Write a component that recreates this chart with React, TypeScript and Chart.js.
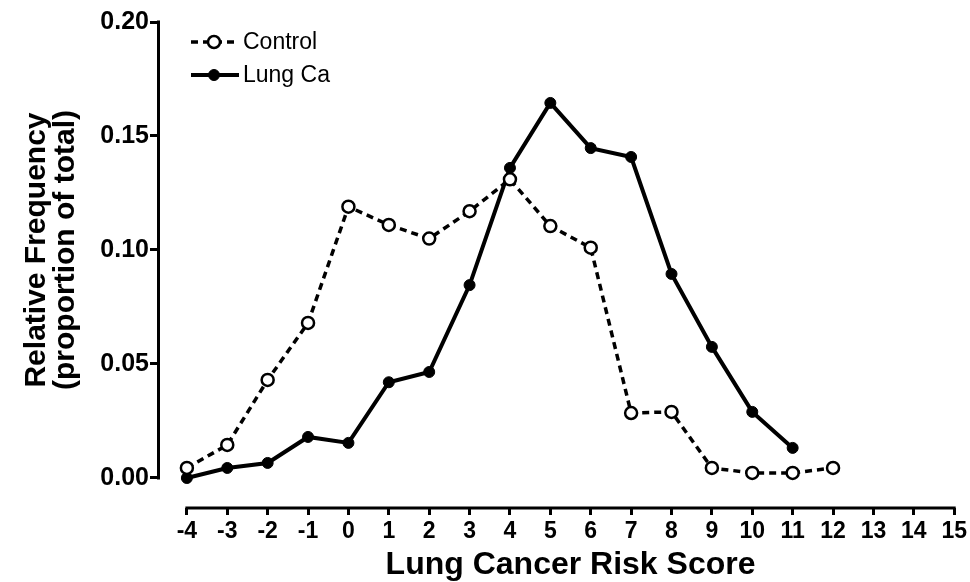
import React, { useEffect, useRef } from "react";
import { Chart, registerables } from "chart.js";

Chart.register(...registerables);

const controlScores = [-4, -3, -2, -1, 0, 1, 2, 3, 4, 5, 6, 7, 8, 9, 10, 11, 12];
const controlValues = [0.0044, 0.0145, 0.043, 0.068, 0.119, 0.111, 0.105, 0.117, 0.131, 0.1105, 0.101, 0.0285, 0.029, 0.0044, 0.0022, 0.0022, 0.0044];
const lungScores = [-4, -3, -2, -1, 0, 1, 2, 3, 4, 5, 6, 7, 8, 9, 10, 11];
const lungValues = [0.0, 0.0044, 0.0066, 0.018, 0.0154, 0.042, 0.0465, 0.0846, 0.136, 0.1645, 0.1447, 0.1408, 0.0895, 0.0575, 0.029, 0.0132];
const xTickValues = [-4, -3, -2, -1, 0, 1, 2, 3, 4, 5, 6, 7, 8, 9, 10, 11, 12, 13, 14, 15];
const yTickValues = [0.0, 0.05, 0.1, 0.15, 0.2];
const seriesNames = ["Control", "Lung Ca"];
const xTitle = "Lung Cancer Risk Score";
const yTitleLines = ["Relative Frequency", "(proportion of total)"];

const FONT = '"Liberation Sans", Arial, sans-serif';

const detachedAxes = {
  id: "detachedAxes",
  beforeDatasetsDraw(chart: any) {
    const { ctx, chartArea } = chart;
    const x = chart.scales.x;
    const y = chart.scales.y;
    ctx.save();
    ctx.strokeStyle = "#000";
    ctx.lineWidth = 3;
    ctx.lineCap = "butt";
    const yTop = y.getPixelForValue(yTickValues[yTickValues.length - 1]);
    const yBot = y.getPixelForValue(yTickValues[0]);
    ctx.beginPath();
    ctx.moveTo(chartArea.left + 1.5, yTop - 1.5);
    ctx.lineTo(chartArea.left + 1.5, yBot + 1.5);
    ctx.stroke();
    const xL = x.getPixelForValue(xTickValues[0]);
    const xR = x.getPixelForValue(xTickValues[xTickValues.length - 1]);
    ctx.beginPath();
    ctx.moveTo(xL - 1.5, chartArea.bottom);
    ctx.lineTo(xR + 1.5, chartArea.bottom);
    ctx.stroke();

    ctx.fillStyle = "#000";
    // x title, centred on the x axis line
    ctx.font = `bold 32px ${FONT}`;
    ctx.textAlign = "center";
    ctx.textBaseline = "alphabetic";
    ctx.fillText(xTitle, (xL + xR) / 2, 574);
    // y title, centred on the y axis line
    ctx.translate(0, (yTop + yBot) / 2);
    ctx.rotate(-Math.PI / 2);
    ctx.font = `bold 30px ${FONT}`;
    ctx.fillText(yTitleLines[0], 0, 45);
    ctx.fillText(yTitleLines[1], 0, 74);
    ctx.restore();
  },
};

const lineLegend = {
  id: "lineLegend",
  afterDraw(chart: any) {
    const { ctx } = chart;
    const rows = [42, 75];
    ctx.save();
    chart.data.datasets.forEach((ds: any, i: number) => {
      const yy = rows[i];
      ctx.strokeStyle = ds.borderColor;
      ctx.lineWidth = ds.borderWidth;
      ctx.setLineDash(ds.borderDash || []);
      ctx.beginPath();
      ctx.moveTo(191, yy);
      ctx.lineTo(239, yy);
      ctx.stroke();
      ctx.setLineDash([]);
      ctx.beginPath();
      ctx.arc(214, yy, ds.pointRadius, 0, Math.PI * 2);
      ctx.fillStyle = ds.pointBackgroundColor;
      ctx.fill();
      ctx.lineWidth = ds.pointBorderWidth;
      ctx.strokeStyle = ds.pointBorderColor;
      ctx.stroke();
      ctx.fillStyle = "#000";
      ctx.font = `23px ${FONT}`;
      ctx.textAlign = "left";
      ctx.textBaseline = "middle";
      ctx.fillText(ds.label, 243, yy + 1);
    });
    ctx.restore();
  },
};

export default function App() {
  const ref = useRef<HTMLCanvasElement | null>(null);
  useEffect(() => {
    if (!ref.current) return;
    const chart = new Chart(ref.current, {
      type: "line",
      data: {
        datasets: [
          {
            label: seriesNames[0],
            data: controlScores.map((s, i) => ({ x: s, y: controlValues[i] })),
            borderColor: "#000",
            borderWidth: 3.5,
            borderDash: [7, 5],
            pointRadius: 6,
            pointBorderWidth: 2.5,
            pointBackgroundColor: "#fff",
            pointBorderColor: "#000",
            tension: 0,
          },
          {
            label: seriesNames[1],
            data: lungScores.map((s, i) => ({ x: s, y: lungValues[i] })),
            borderColor: "#000",
            borderWidth: 4,
            pointRadius: 5.5,
            pointBorderWidth: 1,
            pointBackgroundColor: "#000",
            pointBorderColor: "#000",
            tension: 0,
          },
        ],
      },
      options: {
        animation: false,
        responsive: false,
        layout: { padding: { top: 22, right: 14, left: 0, bottom: 0 } },
        plugins: { legend: { display: false }, tooltip: { enabled: false } },
        scales: {
          x: {
            type: "linear",
            min: -4.74,
            max: 15.02,
            afterBuildTicks: (s: any) => {
              s.ticks = xTickValues.map((v) => ({ value: v }));
            },
            afterFit: (s: any) => {
              s.height = 74;
            },
            border: { display: false },
            grid: {
              drawOnChartArea: false,
              drawTicks: true,
              tickLength: 7,
              tickWidth: 3,
              tickColor: "#000",
            },
            ticks: {
              color: "#000",
              font: { family: FONT, size: 23, weight: "bold" },
              padding: 3,
              maxRotation: 0,
              autoSkip: false,
              callback: (v: any) => String(v),
            },
          },
          y: {
            type: "linear",
            min: -0.01316,
            max: 0.2,
            afterBuildTicks: (s: any) => {
              s.ticks = yTickValues.map((v) => ({ value: v }));
            },
            afterFit: (s: any) => {
              s.width = 157;
            },
            border: { display: false },
            grid: {
              drawOnChartArea: false,
              drawTicks: true,
              tickLength: 7,
              tickWidth: 3,
              tickColor: "#000",
            },
            ticks: {
              color: "#000",
              font: { family: FONT, size: 25, weight: "bold" },
              padding: 1,
              autoSkip: false,
              callback: (v: any) => Number(v).toFixed(2),
            },
          },
        },
      },
      plugins: [detachedAxes, lineLegend],
    });
    return () => chart.destroy();
  }, []);
  return (
    <div style={{ position: "absolute", left: 0, top: 0, width: 970, height: 582, background: "#fff" }}>
      <canvas ref={ref} width={970} height={582} style={{ display: "block" }} />
    </div>
  );
}
